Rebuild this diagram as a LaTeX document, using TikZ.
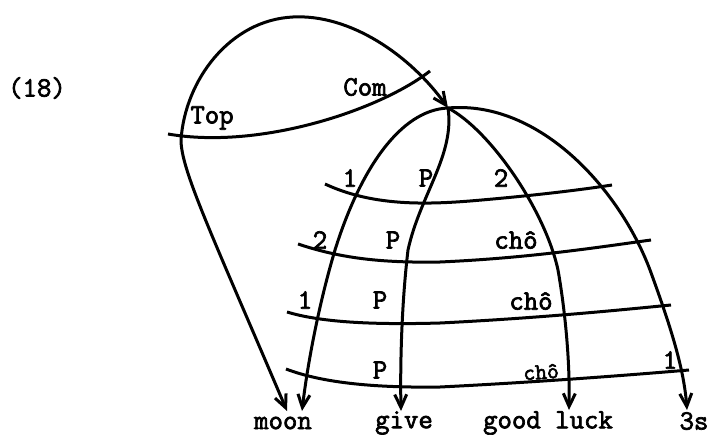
\documentclass[tikz,border=0pt]{standalone}
\usepackage{fontspec}
\newfontface\tw{Latin Modern Mono}[FakeBold=2.5]
\usetikzlibrary{arrows.meta}
\begin{document}
\begin{tikzpicture}[x=1pt,y=-1pt,
  arcarrow/.style={line width=3pt,-{Straight Barb[length=13pt,width=12pt,line width=3pt]}},
  stratum/.style={line width=3pt},
  lab/.style={font=\fontsize{28}{28}\selectfont\tw,inner sep=0pt},
  word/.style={font=\fontsize{28}{28}\selectfont\tw,inner sep=0pt}]
\useasboundingbox (0,0) rectangle (708,435);

% named points
\coordinate (apex) at (293,17);
\coordinate (hub) at (448,108);
\node[word] (moon) at (283,423) {moon};
\node[word] (give) at (404,423) {give};
\node[word] (luck) at (548,423) {good luck};
\node[word] (tres) at (694,421) {3s};
\coordinate (tMoonA) at (287,411);
\coordinate (tMoonB) at (302,411);
\coordinate (tGive) at (401,411);
\coordinate (tLuck) at (569,410);
\coordinate (tTres) at (687,410);

\node[lab] (ex) at (37,88) {(18)};

% outer clause arcs
\draw[arcarrow] (apex) .. controls (230,20) and (185,80) .. (181,140)
  .. controls (181,170) and (212,235) .. (tMoonA);
\draw[arcarrow] (apex) .. controls (350,14) and (410,55) .. (hub);

% outer stratum
\draw[stratum] (168,134) .. controls (260,150) and (380,110) .. (430,71);
\node[lab] (top) at (212,118) {Top};
\node[lab] (com) at (365,87) {Com};

% inner clause arcs
\draw[arcarrow] (hub) .. controls (400,110) and (360,170) .. (335,250)
  .. controls (320,300) and (308,360) .. (tMoonB);
\draw[arcarrow] (hub) .. controls (455,155) and (420,195) .. (408,250)
  .. controls (402,300) and (400,360) .. (tGive);
\draw[arcarrow] (hub) .. controls (490,130) and (545,210) .. (558,270)
  .. controls (565,310) and (570,360) .. (tLuck);
\draw[arcarrow] (hub) .. controls (540,100) and (620,190) .. (650,270)
  .. controls (672,330) and (684,370) .. (tTres);

% inner strata
\draw[stratum] (325,184) .. controls (370,205) and (420,205) .. (470,201)
  .. controls (530,196) and (580,190) .. (612,185);
\draw[stratum] (298,244) .. controls (340,258) and (380,263) .. (440,262)
  .. controls (530,258) and (600,247) .. (651,240);
\draw[stratum] (287,312) .. controls (320,322) and (370,325) .. (440,323)
  .. controls (540,318) and (620,310) .. (671,305);
\draw[stratum] (286,369) .. controls (320,382) and (370,388) .. (440,387)
  .. controls (540,382) and (630,375) .. (689,370);

% labels
\node[lab] (a1) at (350,178) {1};
\node[lab] (a2) at (426,178) {P};
\node[lab] (a3) at (501,178) {2};
\node[lab] (b1) at (320,240) {2};
\node[lab] (b2) at (393,240) {P};
\node[lab] (b3) at (516,240) {chô};
\node[lab] (c1) at (305,300) {1};
\node[lab] (c2) at (380,300) {P};
\node[lab] (c3) at (531,301) {chô};
\node[lab] (d2) at (380,370) {P};
\node[lab,font=\fontsize{23}{23}\selectfont\tw,rotate=4] (d3) at (541,372) {chô};
\node[lab] (d4) at (670,360) {1};
\end{tikzpicture}
\end{document}
